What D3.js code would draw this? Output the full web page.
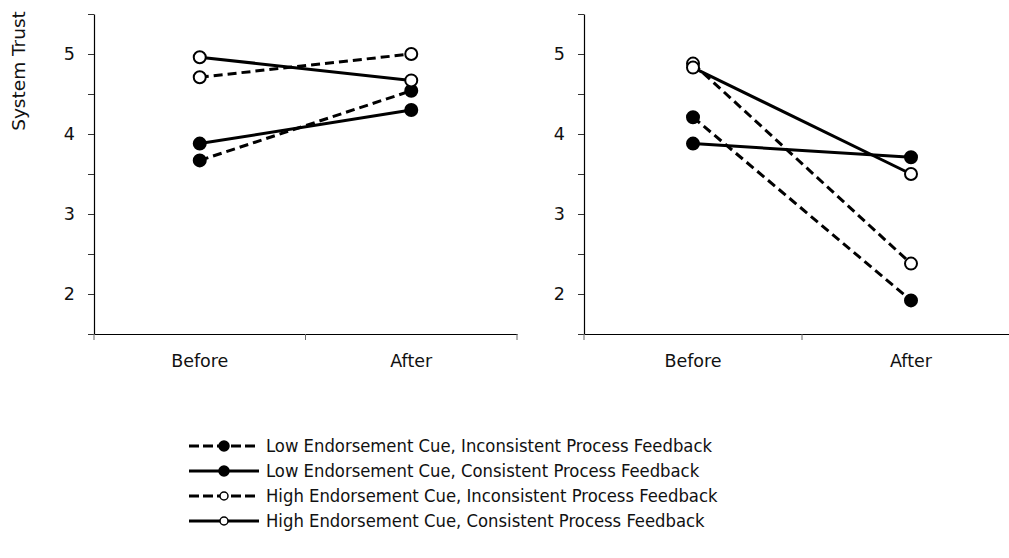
<!DOCTYPE html>
<html>
<head>
<meta charset="utf-8">
<script src="https://cdn.jsdelivr.net/npm/d3@7"></script>
<style>
  html, body { margin: 0; padding: 0; background: #fff; }
  svg { display: block; }
  text { font-family: "DejaVu Sans", sans-serif; fill: #111; }
  .legend-label { font-stretch: condensed; }
</style>
</head>
<body>
<svg id="chart" width="1009" height="558"></svg>
<script>
// Measurement occasions on the x axis
const occasions = ["Before", "After"];

// Conditions (legend order)
const seriesNames = [
  "Low Endorsement Cue, Inconsistent Process Feedback",
  "Low Endorsement Cue, Consistent Process Feedback",
  "High Endorsement Cue, Inconsistent Process Feedback",
  "High Endorsement Cue, Consistent Process Feedback"
];
const seriesDashed = [true, false, true, false];
const seriesFilled = [true, true, false, false];

// Mean system trust, left panel [Before, After]
const leftLowInconsistent  = [3.67, 4.54];
const leftLowConsistent    = [3.88, 4.30];
const leftHighInconsistent = [4.71, 5.00];
const leftHighConsistent   = [4.96, 4.67];

// Mean system trust, right panel [Before, After]
const rightLowInconsistent  = [4.21, 1.92];
const rightLowConsistent    = [3.88, 3.71];
const rightHighInconsistent = [4.88, 2.38];
const rightHighConsistent   = [4.83, 3.50];

// Y axis ticks
const yDomain = [1.5, 5.5];
const yTicks = [1.5, 2, 2.5, 3, 3.5, 4, 4.5, 5, 5.5];
const yTickLabels = ["", "2", "", "3", "", "4", "", "5", ""];
const yTitle = "System Trust";

const svg = d3.select("#chart");
const y = d3.scaleLinear().domain(yDomain).range([334, 14]);

const panels = [
  { x0: 94, x1: 517, data: [leftLowInconsistent, leftLowConsistent, leftHighInconsistent, leftHighConsistent] },
  { x0: 584, x1: 1020, data: [rightLowInconsistent, rightLowConsistent, rightHighInconsistent, rightHighConsistent] }
];

const AXIS_FONT = 17.5;
const LEGEND_FONT = 18.3;

panels.forEach(p => {
  const g = svg.append("g");
  const x = d3.scaleBand().domain(occasions).range([p.x0, p.x1]).padding(0);

  // y axis
  const yAxis = d3.axisLeft(y)
    .tickValues(yTicks)
    .tickFormat((d, i) => yTickLabels[i])
    .tickSize(6)
    .tickSizeOuter(0)
    .tickPadding(13);
  const ya = g.append("g").attr("transform", `translate(${p.x0},0)`).call(yAxis);
  ya.selectAll("text").style("font-size", AXIS_FONT + "px").attr("fill", "#111");
  ya.select(".domain").attr("stroke", "#000").attr("stroke-width", 1.2);
  ya.selectAll(".tick line").attr("stroke", "#333");

  // x axis: labels centred on bands, ticks at band boundaries
  const xAxis = d3.axisBottom(x).tickSize(0).tickSizeOuter(0).tickPadding(21);
  const xa = g.append("g").attr("transform", `translate(0,${y(yDomain[0])})`).call(xAxis);
  xa.selectAll("text").style("font-size", AXIS_FONT + "px").attr("fill", "#111");
  xa.select(".domain").attr("stroke", "#000").attr("stroke-width", 1.2);

  const bounds = [x.range()[0], ...occasions.map(o => x(o) + x.bandwidth())];
  g.selectAll("line.bound").data(bounds).enter().append("line")
    .attr("class", "bound")
    .attr("x1", d => d).attr("x2", d => d)
    .attr("y1", y(yDomain[0])).attr("y2", y(yDomain[0]) + 6)
    .attr("stroke", "#666").attr("stroke-width", 1);

  const cx = o => x(o) + x.bandwidth() / 2;
  const line = d3.line().x((d, i) => cx(occasions[i])).y(d => y(d));

  // lines
  p.data.forEach((vals, si) => {
    g.append("path")
      .attr("d", line(vals))
      .attr("fill", "none")
      .attr("stroke", "#000")
      .attr("stroke-width", 3)
      .attr("stroke-dasharray", seriesDashed[si] ? "9,5" : null);
  });
  // markers
  p.data.forEach((vals, si) => {
    g.selectAll(null).data(vals).enter().append("circle")
      .attr("cx", (d, i) => cx(occasions[i]))
      .attr("cy", d => y(d))
      .attr("r", 6)
      .attr("fill", seriesFilled[si] ? "#000" : "#fff")
      .attr("stroke", "#000")
      .attr("stroke-width", 2);
  });
});

// y axis title
svg.append("text")
  .attr("transform", "translate(25,71) rotate(-90)")
  .attr("text-anchor", "middle")
  .style("font-size", "18.5px")
  .text(yTitle);

// legend
const legend = svg.append("g");
const lx0 = 189, lx1 = 259, ly0 = 446, lstep = 25;
seriesNames.forEach((name, i) => {
  const row = legend.append("g").attr("transform", `translate(0,${ly0 + i * lstep})`);
  row.append("line")
    .attr("x1", lx0).attr("x2", lx1).attr("y1", 0).attr("y2", 0)
    .attr("stroke", "#000").attr("stroke-width", 3)
    .attr("stroke-dasharray", seriesDashed[i] ? "10,4" : null);
  row.append("circle")
    .attr("cx", 224).attr("cy", 0)
    .attr("r", seriesFilled[i] ? 5 : 4)
    .attr("fill", seriesFilled[i] ? "#000" : "#fff")
    .attr("stroke", "#000").attr("stroke-width", 1.5);
  row.append("text")
    .attr("class", "legend-label")
    .attr("x", 266).attr("y", 0).attr("dy", "0.35em")
    .style("font-size", LEGEND_FONT + "px")
    .text(name);
});
</script>
</body>
</html>
